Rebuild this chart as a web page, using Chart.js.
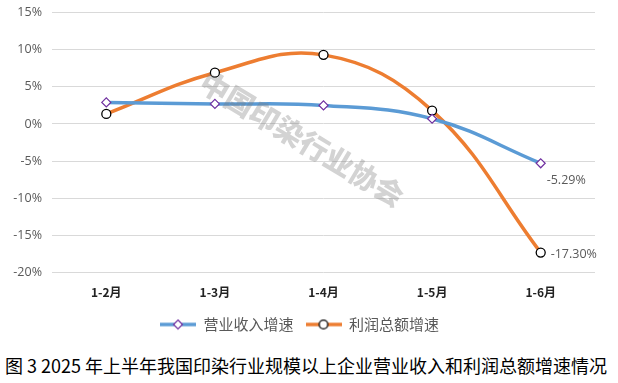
<!DOCTYPE html>
<html>
<head>
<meta charset="utf-8">
<script src="https://cdn.jsdelivr.net/npm/chart.js@4/dist/chart.umd.min.js"></script>
<style>
  body { margin: 0; background: #fff; }
  #wrap { position: relative; width: 618px; height: 342px; overflow: hidden; }
  #chart { display: block; margin-top: -5px; }
  #caption {
    position: absolute;
    left: 5px;
    top: 353px;
    font-family: "Noto Sans CJK SC", sans-serif;
    font-size: 18px;
    line-height: 24px;
    color: #000;
    white-space: nowrap;
  }
</style>
</head>
<body>
<div id="wrap"><canvas id="chart" width="618" height="347"></canvas></div>
<div id="caption">图 3 2025 年上半年我国印染行业规模以上企业营业收入和利润总额增速情况</div>
<script>
// months of the first half of 2025
const months = ['1-2月', '1-3月', '1-4月', '1-5月', '1-6月'];
// growth rates in percent
const revenueGrowth = [2.9, 2.7, 2.5, 0.7, -5.29];
const profitGrowth = [1.35, 6.9, 9.3, 1.8, -17.3];
// only the last point of each line carries a label
const revenueLabels = [null, null, null, null, '-5.29%'];
const profitLabels = [null, null, null, null, '-17.30%'];

const blue = '#5b9bd5';
const orange = '#ed7d31';

// little canvas images so the legend shows a line with its marker
function legendIcon(color, drawMarker) {
  const c = document.createElement('canvas');
  c.width = 36; c.height = 12;
  const g = c.getContext('2d');
  g.strokeStyle = color;
  g.lineWidth = 3.5;
  g.beginPath(); g.moveTo(0, 6); g.lineTo(36, 6); g.stroke();
  drawMarker(g);
  return c;
}
const blueIcon = legendIcon(blue, g => {
  g.fillStyle = '#fff'; g.strokeStyle = '#7030a0'; g.lineWidth = 1.2;
  g.beginPath(); g.moveTo(18, 1.5); g.lineTo(22.5, 6); g.lineTo(18, 10.5); g.lineTo(13.5, 6); g.closePath();
  g.fill(); g.stroke();
});
const orangeIcon = legendIcon(orange, g => {
  g.fillStyle = '#fff'; g.strokeStyle = '#000'; g.lineWidth = 1.3;
  g.beginPath(); g.arc(18, 6, 4.3, 0, Math.PI * 2); g.fill(); g.stroke();
});

// grey watermark laid over the plot (canvas is shifted up 5px)
const watermark = {
  id: 'watermark',
  afterDatasetsDraw(chart) {
    const ctx = chart.ctx;
    ctx.save();
    ctx.translate(302, 144);
    ctx.rotate(31 * Math.PI / 180);
    ctx.font = '900 29px "Noto Sans CJK SC"';
    ctx.fillStyle = 'rgba(120,120,120,0.33)';
    ctx.textAlign = 'center';
    ctx.textBaseline = 'middle';
    ctx.fillText('中国印染行业协会', 0, 0);
    ctx.restore();
  }
};

// end labels placed next to the last points
const endLabels = {
  id: 'endLabels',
  afterDatasetsDraw(chart) {
    const ctx = chart.ctx;
    const x = chart.scales.x, y = chart.scales.y;
    ctx.save();
    ctx.font = '12.5px "Open Sans"';
    ctx.fillStyle = '#595959';
    ctx.textBaseline = 'middle';
    [[revenueGrowth, revenueLabels, 6, 17], [profitGrowth, profitLabels, 10, 2]].forEach(([vals, labels, dx, dy]) => {
      labels.forEach((t, i) => {
        if (!t) return;
        ctx.fillText(t, x.getPixelForValue(i) + dx, y.getPixelForValue(vals[i]) + dy);
      });
    });
    ctx.restore();
  }
};

new Chart(document.getElementById('chart'), {
  type: 'line',
  data: {
    labels: months,
    datasets: [
      {
        label: '营业收入增速',
        data: revenueGrowth,
        borderColor: blue,
        borderWidth: 3.5,
        tension: 0.4,
        pointStyle: 'rectRot',
        pointRadius: 4.5,
        pointBorderWidth: 1.2,
        pointBackgroundColor: '#fff',
        pointBorderColor: '#7030a0'
      },
      {
        label: '利润总额增速',
        data: profitGrowth,
        borderColor: orange,
        borderWidth: 3.5,
        tension: 0.4,
        pointStyle: 'circle',
        pointRadius: 4.5,
        pointBorderWidth: 1.3,
        pointBackgroundColor: '#fff',
        pointBorderColor: '#000'
      }
    ]
  },
  options: {
    responsive: false,
    animation: false,
    layout: { padding: { top: -1, right: 23, left: 4, bottom: 0 } },
    plugins: {
      legend: {
        position: 'bottom',
        labels: {
          usePointStyle: true,
          pointStyleWidth: 36,
          boxHeight: 12,
          font: { family: '"Noto Sans CJK SC"', size: 15 },
          color: '#595959',
          padding: 12,
          generateLabels(chart) {
            return chart.data.datasets.map((ds, i) => ({
              text: ds.label,
              pointStyle: i === 0 ? blueIcon : orangeIcon,
              fontColor: '#595959',
              strokeStyle: 'transparent',
              fillStyle: 'transparent',
              lineWidth: 0,
              datasetIndex: i
            }));
          }
        }
      },
      tooltip: { enabled: false }
    },
    scales: {
      x: {
        offset: true,
        grid: { display: false, offset: true },
        border: { display: false },
        ticks: { font: { family: '"Noto Sans CJK SC"', size: 12, weight: 'bold' }, color: '#222', padding: 5 }
      },
      y: {
        min: -20,
        max: 15,
        ticks: {
          stepSize: 5,
          callback: v => v + '%',
          font: { family: '"Open Sans"', size: 12.5 },
          color: '#595959',
          padding: 10
        },
        grid: { color: '#d9d9d9', lineWidth: 1, drawTicks: false },
        border: { display: false },
        afterFit(s) { s.width = 48; }
      }
    }
  },
  plugins: [watermark, endLabels]
});
</script>
</body>
</html>
